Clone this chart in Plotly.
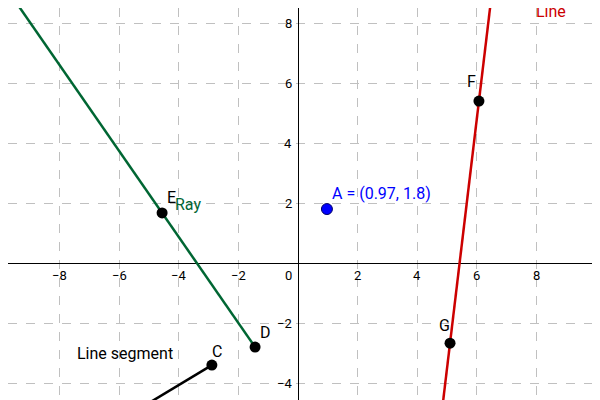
import plotly.graph_objects as go

# points
pt_names = ["E", "D", "C", "F", "G"]
pt_x = [-4.56, -1.44, -2.89, 6.07, 5.1]
pt_y = [1.67, -2.8, -3.4, 5.4, -2.67]
a_x, a_y = 0.97, 1.8
seg_end = (-6.0, -5.26)

xticks = [-8, -6, -4, -2, 2, 4, 6, 8]
yticks = [-4, -2, 2, 4, 6, 8]
xr = [-9.73, 10.4]
yr = [-4.83, 8.5]

P = dict(zip(pt_names, zip(pt_x, pt_y)))


def extend(p, q, t):
    return (p[0] + (q[0] - p[0]) * t, p[1] + (q[1] - p[1]) * t)


fig = go.Figure()

# ray from D through E
d, e = P["D"], P["E"]
r_end = extend(d, e, 4)
fig.add_trace(go.Scatter(x=[d[0], r_end[0]], y=[d[1], r_end[1]], mode="lines",
                         line=dict(color="#006633", width=2.5)))
# line through G and F
g, f = P["G"], P["F"]
l0, l1 = extend(g, f, -3), extend(g, f, 4)
fig.add_trace(go.Scatter(x=[l0[0], l1[0]], y=[l0[1], l1[1]], mode="lines",
                         line=dict(color="#cc0000", width=2.5)))
# segment
c = P["C"]
fig.add_trace(go.Scatter(x=[c[0], seg_end[0]], y=[c[1], seg_end[1]], mode="lines",
                         line=dict(color="black", width=2.5)))

fig.add_trace(go.Scatter(x=pt_x, y=pt_y, mode="markers",
                         marker=dict(color="black", size=11)))
fig.add_trace(go.Scatter(x=[a_x], y=[a_y], mode="markers",
                         marker=dict(color="#0000ff", size=11,
                                     line=dict(color="#000066", width=1))))

ann = []
offs = {"E": (9, 15), "D": (10, 15), "C": (5, 14), "F": (-7, 20), "G": (-6, 18)}
for n in pt_names:
    ox, oy = offs[n]
    ann.append(dict(x=P[n][0], y=P[n][1], text=n, showarrow=False,
                    xshift=ox, yshift=oy, font=dict(size=16, color="black")))
ann.append(dict(x=a_x, y=a_y, text="A = (0.97, 1.8)", showarrow=False,
                xanchor="left", xshift=3, yshift=16,
                font=dict(size=16, color="#0000ff")))
ann.append(dict(x=-3.7, y=1.95, text="Ray", showarrow=False,
                font=dict(size=16, color="#006633")))
ann.append(dict(x=8.5, y=8.4, text="Line", showarrow=False,
                font=dict(size=16, color="#cc0000")))
ann.append(dict(x=-5.8, y=-3.03, text="Line segment", showarrow=False,
                font=dict(size=16, color="black")))

for v in xticks:
    ann.append(dict(x=v, y=0, text=str(v).replace("-", "−"), showarrow=False,
                    yshift=-12, font=dict(size=13, color="black")))
for v in yticks:
    ann.append(dict(x=0, y=v, text=str(v).replace("-", "−"), showarrow=False,
                    xanchor="right", xshift=-4, font=dict(size=13, color="black")))
ann.append(dict(x=0, y=0, text="0", showarrow=False, xanchor="right",
                xshift=-4, yshift=-12, font=dict(size=13, color="black")))

axis = dict(showgrid=True, gridcolor="#c0c0c0", griddash="dash", gridwidth=1,
            dtick=2, zeroline=True, zerolinecolor="black", zerolinewidth=1,
            showticklabels=False, ticks="")
fig.update_layout(
    width=600, height=400, margin=dict(l=0, r=0, t=0, b=0),
    plot_bgcolor="white", paper_bgcolor="white", showlegend=False,
    xaxis=dict(range=xr, tick0=0, **axis),
    yaxis=dict(range=yr, tick0=0, **axis),
    annotations=ann, font=dict(family="Roboto"),
)
fig.write_html("out.html")
